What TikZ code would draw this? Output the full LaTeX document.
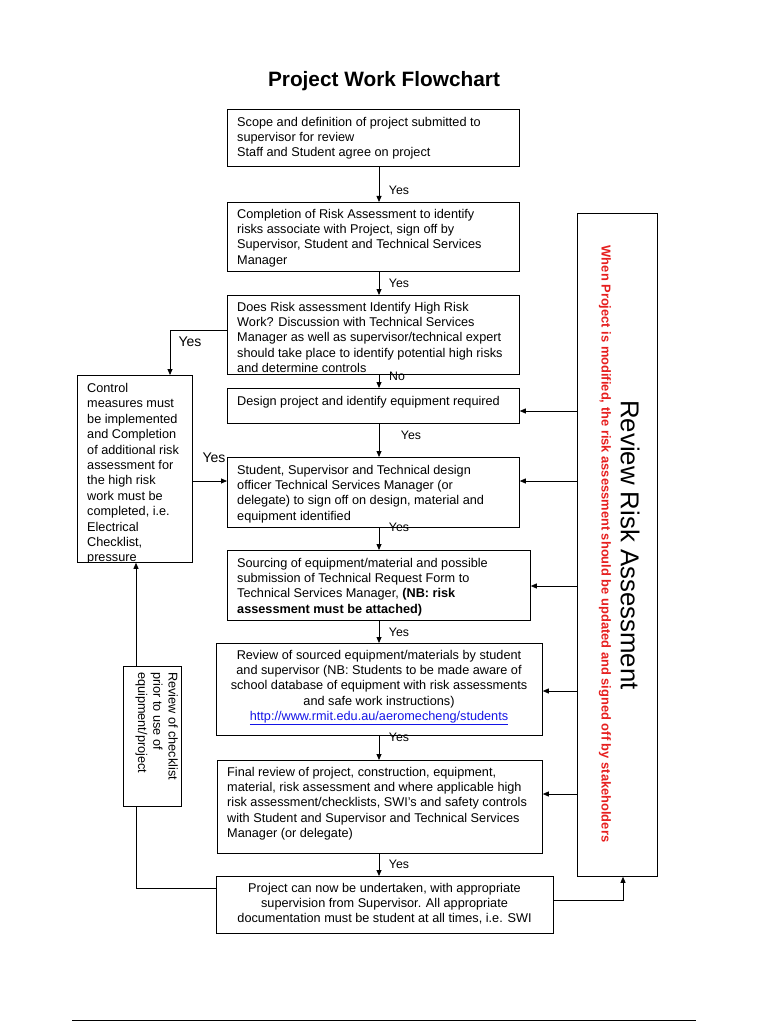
\documentclass[tikz,border=0pt]{standalone}
\usepackage{fontspec}
\setmainfont{Liberation Sans}
\usetikzlibrary{arrows.meta,calc}
\definecolor{redtxt}{RGB}{230,30,30}
\definecolor{linkblue}{RGB}{20,20,230}
\begin{document}
\begin{tikzpicture}[x=1pt,y=-1pt,
  box/.style={draw, line width=0.8pt, inner sep=0pt, anchor=north west},
  txt/.style={inner sep=0pt, anchor=north west, align=left, font=\fontsize{12.7}{15.2}\selectfont},
  ctxt/.style={inner sep=0pt, anchor=north, align=center, font=\fontsize{12.7}{15.2}\selectfont},
  arr/.style={-{Triangle[length=6pt,width=5pt]}, line width=0.8pt},
  ln/.style={line width=0.8pt},
  lbl/.style={inner sep=0pt, font=\fontsize{12.3}{14}\selectfont},
  biglbl/.style={inner sep=0pt, font=\fontsize{14}{16}\selectfont},
]
\useasboundingbox (0,0) rectangle (768,1024);

\node[font=\bfseries\fontsize{20.8}{24}\selectfont] (title) at (384,81) {Project Work Flowchart};

% boxes
\node[box, minimum width=292pt, minimum height=57pt] (b1) at (227,109) {};
\node[box, minimum width=292pt, minimum height=69pt] (b2) at (227,202) {};
\node[box, minimum width=292pt, minimum height=79pt] (b3) at (227,295) {};
\node[box, minimum width=292pt, minimum height=35pt] (b4) at (227,388) {};
\node[box, minimum width=292pt, minimum height=70pt] (b5) at (227,457) {};
\node[box, minimum width=303pt, minimum height=70pt] (b6) at (227,550) {};
\node[box, minimum width=326pt, minimum height=92pt] (b7) at (216,643) {};
\node[box, minimum width=325pt, minimum height=93pt] (b8) at (217,760) {};
\node[box, minimum width=337pt, minimum height=57pt] (b9) at (216,876) {};
\node[box, minimum width=115pt, minimum height=187pt] (cb) at (77,375) {};
\node[box, minimum width=58pt, minimum height=140pt] (rc) at (123,666) {};
\node[box, minimum width=80pt, minimum height=663pt] (rb) at (577,213) {};

% texts
\node[txt] (t1) at (237,117) {Scope and definition of project submitted to\\supervisor for review\\Staff and Student agree on project};
\node[txt] (t2) at (237,209) {Completion of Risk Assessment to identify\\risks associate with Project, sign off by\\Supervisor, Student and Technical Services\\Manager};
\node[txt] (t3) at (237,302) {Does Risk assessment Identify High Risk\\Work? Discussion with Technical Services\\Manager as well as supervisor/technical expert\\should take place to identify potential high risks\\and determine controls};
\node[txt] (t4) at (237,396) {Design project and identify equipment required};
\node[txt] (t5) at (237,465) {Student, Supervisor and Technical design\\officer Technical Services Manager (or\\delegate) to sign off on design, material and\\equipment identified};
\node[txt] (t6) at (237,558) {Sourcing of equipment/material and possible\\submission of Technical Request Form to\\Technical Services Manager, \textbf{(NB: risk}\\\textbf{assessment must be attached)}};
\node[ctxt] (t7) at (379,650) {Review of sourced equipment/materials by student\\and supervisor (NB: Students to be made aware of\\school database of equipment with risk assessments\\and safe work instructions)\\{\color{linkblue}\underline{http://www.rmit.edu.au/aeromecheng/students}}};
\node[txt] (t8) at (227,767) {Final review of project, construction, equipment,\\material, risk assessment and where applicable high\\risk assessment/checklists, SWI’s and safety controls\\with Student and Supervisor and Technical Services\\Manager (or delegate)};
\node[ctxt] (t9) at (384.5,883) {Project can now be undertaken, with appropriate\\supervision from Supervisor. All appropriate\\documentation must be student at all times, i.e. SWI};

\begin{scope}
\clip (cb.north west) rectangle (cb.south east);
\node[txt, font=\fontsize{12.7}{15.4}\selectfont] (tc) at (87,383) {Control\\measures must\\be implemented\\and Completion\\of additional risk\\assessment for\\the high risk\\work must be\\completed, i.e.\\Electrical\\Checklist,\\pressure};
\end{scope}

\node[txt, rotate=-90] (trc) at (178,672) {Review of checklist\\prior to use of\\equipment/project};

\node[rotate=-90, inner sep=0pt, font=\fontsize{25.8}{30}\selectfont] (trb) at (630,545) {Review Risk Assessment};
\node[rotate=-90, inner sep=0pt, text=redtxt, font=\bfseries\fontsize{12.9}{15}\selectfont] (trr) at (605,544) {When Project is modified, the risk assessment should be updated and signed off by stakeholders};

% connectors
\coordinate (ax) at (379,0);
\draw[arr] (b1.south -| ax) -- (b2.north -| ax);
\draw[arr] (b2.south -| ax) -- (b3.north -| ax);
\draw[arr] (b3.south -| ax) -- (b4.north -| ax);
\draw[arr] (b4.south -| ax) -- (b5.north -| ax);
\draw[arr] (b5.south -| ax) -- (b6.north -| ax);
\draw[arr] (b6.south -| ax) -- (b7.north -| ax);
\draw[arr] (b7.south -| ax) -- (b8.north -| ax);
\draw[arr] (b8.south -| ax) -- (b9.north -| ax);

\node[lbl] (y1) at (399,190) {Yes};
\node[lbl] (y2) at (399,283) {Yes};
\node[lbl] (n3) at (397,376) {No};
\node[lbl] (y4) at (411,435) {Yes};
\node[lbl] (y5) at (399,527) {Yes};
\node[lbl] (y6) at (399,632) {Yes};
\node[lbl] (y7) at (399,737) {Yes};
\node[lbl] (y8) at (399,864) {Yes};
\node[biglbl] (yb1) at (190,342) {Yes};
\node[biglbl] (yb2) at (214,458) {Yes};

\coordinate (l3) at (227,330);
\coordinate (lx) at (170,0);
\draw[arr] (l3) -| (cb.north -| lx);
\coordinate (c5) at (192,481);
\draw[arr] (c5) -- (c5 -| b5.west);
\coordinate (bx) at (136,0);
\draw[arr] (rc.north -| bx) -- (cb.south -| bx);
\coordinate (l9) at (216,888);
\draw[ln] (l9) -| (rc.south -| bx);
\coordinate (r9) at (553,900);
\coordinate (rx) at (623,0);
\draw[arr] (r9) -| (rb.south -| rx);

\coordinate (s4) at (577,411);
\coordinate (s5) at (577,481);
\coordinate (s6) at (577,586);
\coordinate (s7) at (577,691);
\coordinate (s8) at (577,794);
\draw[arr] (s4) -- (s4 -| b4.east);
\draw[arr] (s5) -- (s5 -| b5.east);
\draw[arr] (s6) -- (s6 -| b6.east);
\draw[arr] (s7) -- (s7 -| b7.east);
\draw[arr] (s8) -- (s8 -| b8.east);

\draw[line width=0.6pt] (72,1020) -- (696,1020);
\end{tikzpicture}
\end{document}
